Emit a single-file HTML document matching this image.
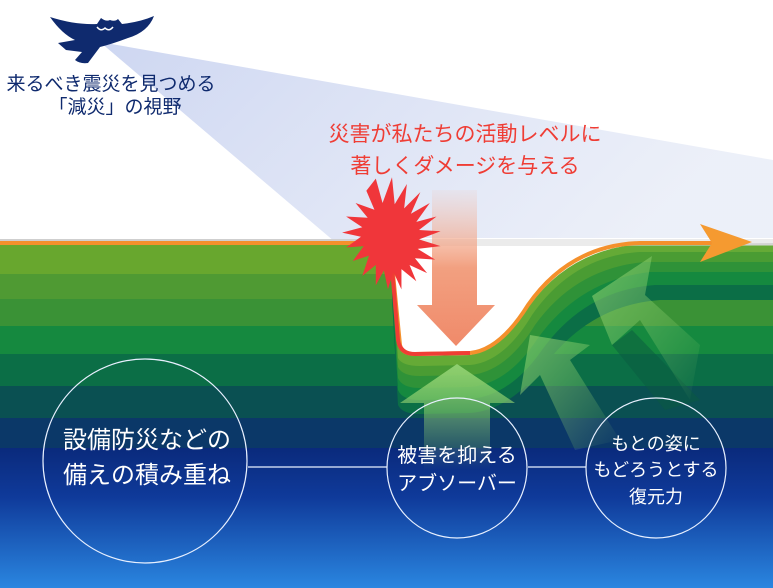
<!DOCTYPE html>
<html><head><meta charset="utf-8"><style>
html,body{margin:0;padding:0;background:#fff}
svg{display:block}
text{font-family:"Liberation Sans","Noto Sans CJK JP",sans-serif}
</style></head><body>
<svg width="773" height="588" viewBox="0 0 773 588" xmlns="http://www.w3.org/2000/svg">
<defs>
<linearGradient id="beam" x1="0" y1="0" x2="1" y2="0.3">
<stop offset="0" stop-color="#c8d2f0" stop-opacity="0.9"/>
<stop offset="1" stop-color="#e4e9f6" stop-opacity="0.7"/>
</linearGradient>
<linearGradient id="blue" x1="0" y1="0" x2="0" y2="1">
<stop offset="0" stop-color="#0a2a7c"/>
<stop offset="0.35" stop-color="#0f3a9a"/>
<stop offset="1" stop-color="#2a86e0"/>
</linearGradient>
<linearGradient id="arrowD" x1="0" y1="0" x2="0" y2="1">
<stop offset="0" stop-color="#f4b7a0" stop-opacity="0.1"/>
<stop offset="0.5" stop-color="#f2a080"/>
<stop offset="1" stop-color="#f08a6a"/>
</linearGradient>
<linearGradient id="arrowU" x1="0" y1="0" x2="0" y2="1">
<stop offset="0" stop-color="#8fd070"/>
<stop offset="1" stop-color="#8fd070" stop-opacity="0"/>
</linearGradient>
<linearGradient id="arrowR" x1="0" y1="0" x2="1" y2="1">
<stop offset="0" stop-color="#8fd070" stop-opacity="0.9"/>
<stop offset="1" stop-color="#8fd070" stop-opacity="0"/>
</linearGradient>
</defs>
<polygon points="100,42 773,160 773,242 335,242" fill="url(#beam)"/>
<rect x="0" y="239" width="773" height="8" fill="#cfcfcf"/>
<rect x="0" y="245" width="773" height="30" fill="#68a72e"/>
<rect x="0" y="274" width="773" height="26" fill="#4f9a33"/>
<rect x="0" y="299" width="773" height="28" fill="#3a9236"/>
<rect x="0" y="326" width="773" height="29" fill="#15893f"/>
<rect x="0" y="354" width="773" height="33" fill="#0b6e46"/>
<rect x="0" y="386" width="773" height="33" fill="#0a5052"/>
<rect x="0" y="418" width="773" height="31" fill="#0b3868"/>
<rect x="0" y="448" width="773" height="140" fill="url(#blue)"/>
<!-- bent layers in dip -->
<path d="M392,300 L398,405 Q402,414 420,414 L470,413 Q510,410 545,365 Q590,305 660,300 L773,300 L773,245 L392,245 Z" fill="#0b6e46"/>
<path d="M392,290 L398,390 Q402,400 420,400 L470,399 Q510,396 542,350 Q585,290 655,285 L773,285 L773,245 L392,245 Z" fill="#15893f"/>
<path d="M392,280 L398,378 Q402,388 420,388 L470,387 Q508,384 538,338 Q580,280 650,272 L773,272 L773,245 L392,245 Z" fill="#2f9238"/>
<path d="M392,270 L398,367 Q402,376 420,376 L470,375 Q506,372 535,325 Q576,268 645,262 L773,262 L773,245 L392,245 Z" fill="#4a9c33"/>
<path d="M392,245 L398,358 Q402,366 420,366 L470,365 Q504,362 532,315 Q573,256 640,252 L773,252 L773,245 Z" fill="#65aa36"/>
<!-- white dip -->
<path d="M392,243 L398,345 Q402,356 420,356 L470,355 Q500,350 530,305 Q570,250 640,244 L773,243 L773,238 L392,238 Z" fill="#fff"/>
<rect x="392" y="239" width="381" height="7" fill="#d8d8d8" opacity="0.5"/>
<!-- up arrows -->
<polygon points="457,364 515,403 490,403 490,470 424,470 424,403 400,403" fill="url(#arrowU)"/>
<polygon points="530,335 590,345 570,360 620,440 575,450 540,375 520,395" fill="url(#arrowR)" opacity="0.75"/>
<polygon points="612,345 632,330 700,400 665,410" fill="#0a5a40" opacity="0.5"/>
<polygon points="652,256 645,295 700,345 690,400 640,320 612,345 592,296" fill="url(#arrowR)" opacity="0.75"/>
<!-- down arrow -->
<polygon points="432,190 477,190 477,305 495,305 456,346 417,305 432,305" fill="url(#arrowD)"/>
<!-- line -->
<path d="M0,243 L390,243" stroke="#f4902c" stroke-width="4" fill="none"/>
<path d="M390,243 L400,345 Q402,354 415,354 L470,353 Q500,350 528,305 Q570,245 640,243 L712,243" stroke="#f4902c" stroke-width="4" fill="none"/>
<path d="M390,243 L398,340 Q400,354 415,354 L470,353" stroke="#ef3d35" stroke-width="4" fill="none"/>
<polygon points="700,224 752,242 700,262 712,243" fill="#f59a30"/>
<!-- starburst -->
<g transform="translate(392,234) scale(1.35) translate(-400,-237)">
<polygon fill="#f0363a" points="388,196 393,214 400,195 402,215 411,200 409,218 421,206 414,222 428,214 418,228 433,224 420,234 436,235 420,241 436,246 419,248 432,256 417,255 426,266 413,260 418,272 407,263 407,278 401,265 397,278 394,264 388,275 388,260 378,268 383,253 371,257 379,246 366,247 377,239 363,236 378,232 366,224 382,225 373,214 387,219 381,205"/>
</g>
<!-- owl -->
<path fill="#0f2a6e" d="M50,17 Q75,25 97,24 L101,18 Q106,22 110,20 Q115,22 118,19 L122,24 Q140,22 154,16 Q148,32 128,38 Q112,44 100,47 L88,63 Q80,64 75,60 L82,52 L66,50 L58,43 L75,40 Q62,34 50,17 Z"/>
<path d="M97,27 Q101,32 105,28 Q109,32 113,27" stroke="#fff" stroke-width="1.5" fill="none"/>
<!-- texts -->
<text x="111" y="90" font-size="19" fill="#0f2a6e" text-anchor="middle">来るべき震災を見つめる</text>
<text x="115" y="113" font-size="19" fill="#0f2a6e" text-anchor="middle">「減災」の視野</text>
<text x="465" y="141" font-size="21" fill="#ef3d35" text-anchor="middle">災害が私たちの活動レベルに</text>
<text x="465" y="173" font-size="21" fill="#ef3d35" text-anchor="middle">著しくダメージを与える</text>
<g stroke="#e8f0ff" stroke-width="1.2" fill="none">
<line x1="248" y1="467" x2="387" y2="467"/>
<line x1="528" y1="467" x2="586" y2="467"/>
<circle cx="145" cy="461" r="102"/>
<circle cx="457" cy="468" r="70"/>
<circle cx="656" cy="468" r="70"/>
</g>
<g fill="#fff" text-anchor="middle">
<text x="147" y="448" font-size="24">設備防災などの</text>
<text x="147" y="483" font-size="24">備えの積み重ね</text>
<text x="457" y="462" font-size="20">被害を抑える</text>
<text x="457" y="490" font-size="20">アブソーバー</text>
<text x="656" y="450" font-size="18">もとの姿に</text>
<text x="656" y="476" font-size="18">もどろうとする</text>
<text x="656" y="503" font-size="18">復元力</text>
</g>
</svg>
</body></html>
